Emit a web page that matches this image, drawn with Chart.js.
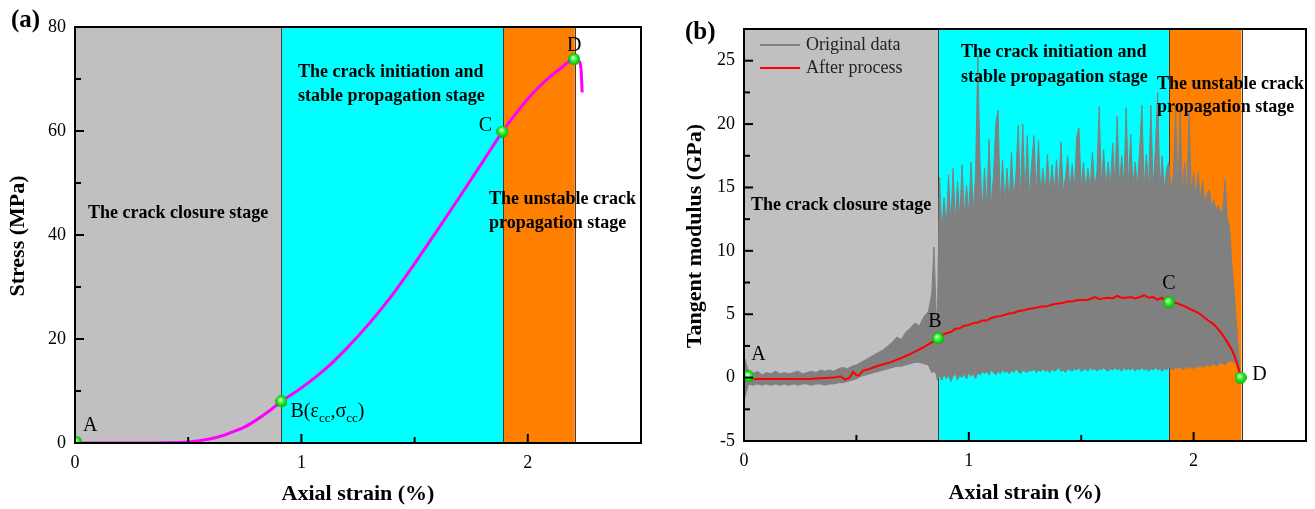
<!DOCTYPE html>
<html><head><meta charset="utf-8">
<script src="https://cdn.jsdelivr.net/npm/chart.js@4.4.1/dist/chart.umd.min.js"></script>
<style>
html,body{margin:0;padding:0;background:#fff;width:1315px;height:509px;overflow:hidden}
canvas{position:absolute;top:0}
#c1{left:0}
#c2{left:657px}
</style></head><body>
<canvas id="c1" width="657" height="509"></canvas>
<canvas id="c2" width="658" height="509"></canvas>
<script>
// ---------- Panel (a): stress-strain ----------
const strainA = [0,0.1,0.2,0.3,0.4,0.5,0.55,0.6,0.65,0.7,0.75,0.8,0.85,0.912,1.0,1.1,1.2,1.3,1.4,1.5,1.6,1.7,1.8,1.888,1.95,2.0,2.05,2.1,2.15,2.205,2.225,2.235,2.24];
const stressA = [0,0,0,0,0.05,0.2,0.45,0.8,1.4,2.2,3.1,4.4,5.9,8.0,10.6,14.0,18.2,23.0,28.4,34.5,40.9,47.4,54.0,59.9,63.5,66.2,68.5,70.5,72.2,73.8,73.5,72.0,67.4];
const markAx = [0.005,0.912,1.888,2.205];
const markAy = [0.2,8.0,59.9,73.8];
const markNames = ['A','B','C','D'];
const stageEdgesA = [0,0.912,1.892,2.208,2.5];
const xTicks = [0,1,2];
const xMinor = [0.5,1.5];
const yTicksA = [0,20,40,60,80];
const yMinorA = [10,30,50,70];

// ---------- Panel (b): tangent modulus ----------
const origX1 = [0,0.02,0.04,0.06,0.08,0.1,0.12,0.14,0.16,0.18,0.2,0.22,0.24,0.26,0.28,0.3,0.32,0.34,0.36,0.38,0.4,0.42,0.44,0.46,0.48,0.5,0.52,0.54,0.56,0.58,0.6,0.62,0.64,0.66,0.68,0.7,0.72,0.74,0.76,0.78,0.8,0.82,0.835,0.845,0.855,0.86];
const origUp1 = [1.7,0.5,0.3,0.5,0.2,0.4,0.3,0.5,0.3,0.4,0.3,0.4,0.5,0.3,0.4,0.5,0.4,0.6,0.5,0.6,0.5,0.7,0.8,0.7,0.9,1.0,1.2,1.4,1.6,1.8,2.0,2.2,2.5,2.8,3.2,3.0,3.6,3.9,4.3,4.1,4.8,5.2,6.6,10.3,5.0,4.5];
const origLo1 = [-1.8,-0.5,-0.6,-0.5,-0.6,-0.5,-0.6,-0.5,-0.6,-0.5,-0.6,-0.5,-0.6,-0.5,-0.5,-0.6,-0.5,-0.5,-0.6,-0.5,-0.5,-0.4,-0.4,-0.3,-0.2,-0.1,0.1,0.2,0.3,0.4,0.5,0.6,0.7,0.8,0.9,0.9,1.0,1.1,1.2,1.2,1.1,1.0,0.4,0.5,0.3,-0.2];
const origX2 = [0.87,0.88,0.89,0.9,0.91,0.92,0.93,0.94,0.95,0.96,
0.97,0.98,0.99,1,1.01,1.02,1.03,1.04,1.05,1.06,
1.07,1.08,1.09,1.1,1.11,1.12,1.13,1.14,1.15,1.16,
1.17,1.18,1.19,1.2,1.21,1.22,1.23,1.24,1.25,1.26,
1.27,1.28,1.29,1.3,1.31,1.32,1.33,1.34,1.35,1.36,
1.37,1.38,1.39,1.4,1.41,1.42,1.43,1.44,1.45,1.46,
1.47,1.48,1.49,1.5,1.51,1.52,1.53,1.54,1.55,1.56,
1.57,1.58,1.59,1.6,1.61,1.62,1.63,1.64,1.65,1.66,
1.67,1.68,1.69,1.7,1.71,1.72,1.73,1.74,1.75,1.76,
1.77,1.78,1.79,1.8,1.81,1.82,1.83,1.84,1.85,1.86,
1.87,1.88,1.89,1.9,1.91,1.92,1.93,1.94,1.95,1.96,
1.97,1.98,1.99,2,2.01,2.02,2.03,2.04,2.05,2.06,
2.07,2.08,2.09,2.1,2.11,2.12,2.13,2.14,2.15,2.16,
2.17,2.18,2.19,2.2,2.21];
const origUp2 = [15.8,11.5,14.2,11.8,16.0,12.0,16.5,12.3,15.5,12.5,
16.8,12.8,15.2,12.9,17.0,13.0,16.0,25.3,17.0,13.2,
16.5,13.4,18.8,13.5,16.0,20.0,21.1,13.6,17.2,13.8,
16.5,13.8,17.8,14.0,16.2,19.9,14.0,20.0,14.2,19.1,
14.2,17.0,19.1,14.3,18.7,14.4,16.5,14.5,17.6,14.5,
16.8,14.6,17.2,14.6,18.6,14.7,15.8,17.5,14.8,16.8,
14.8,19.0,19.7,14.9,17.0,14.9,16.5,15.0,17.8,15.0,
16.2,21.4,15.0,18.0,15.0,17.0,15.1,18.5,15.1,20.6,
15.1,17.5,15.1,21.3,15.0,19.2,15.0,17.0,15.0,18.0,
21.5,15.0,17.6,14.9,21.5,14.9,18.0,22.5,14.8,17.5,
14.8,16.5,17.0,14.7,16.0,21.1,14.6,21.3,14.5,17.0,
14.4,21.1,14.3,16.2,14.2,16.2,14.0,15.5,13.8,14.5,
14.8,13.5,14.0,13.2,13.6,13.0,13.3,15.6,12.5,12.0,
9.0,7.0,4.5,2.0,0.0];
const origLo2 = [0.2,-0.2,0.3,-0.1,0.2,-0.3,0.1,0.3,-0.2,0.2,
0.0,0.3,-0.1,0.4,0.1,0.3,-0.1,0.4,0.2,0.5,
0.3,0.5,0.2,0.6,0.4,0.2,0.5,0.3,0.6,0.4,
0.5,0.3,0.6,0.4,0.7,0.5,0.3,0.6,0.5,0.4,
0.6,0.5,0.7,0.4,0.6,0.5,0.7,0.5,0.6,0.4,
0.7,0.5,0.6,0.8,0.5,0.6,0.4,0.7,0.6,0.5,
0.7,0.6,0.8,0.5,0.6,0.7,0.5,0.8,0.6,0.7,
0.5,0.7,0.6,0.8,0.6,0.5,0.7,0.6,0.8,0.6,
0.7,0.5,0.8,0.6,0.7,0.6,0.8,0.5,0.7,0.6,
0.8,0.6,0.7,0.5,0.7,0.6,0.8,0.6,0.7,0.5,
0.7,0.6,0.8,0.7,0.6,0.8,0.7,0.9,0.6,0.8,
0.7,0.9,0.8,0.7,0.9,0.8,1.0,0.8,0.9,1.0,
0.9,1.0,1.1,0.9,1.0,1.2,1.1,1.0,1.2,1.3,
1.3,1.2,1.1,0.6,0.0];
const procX = [0.02,0.03,0.1,0.2,0.3,0.4,0.43,0.45,0.47,0.485,0.5,0.51,0.53,0.56,0.6,0.65,0.7,0.75,0.8,0.863,0.88,0.9,0.92,0.94,0.96,0.98,1.0,1.02,1.04,1.06,1.08,1.1,1.12,1.14,1.16,1.18,1.2,1.22,1.24,1.26,1.28,1.3,1.32,1.34,1.36,1.38,1.4,1.42,1.44,1.46,1.48,1.5,1.52,1.54,1.56,1.58,1.6,1.62,1.64,1.66,1.68,1.7,1.72,1.74,1.76,1.78,1.8,1.82,1.84,1.86,1.87,1.89,1.91,1.93,1.95,1.97,1.99,2.01,2.03,2.05,2.07,2.09,2.11,2.13,2.15,2.17,2.18,2.19,2.2,2.209];
const procY = [0.1,-0.1,-0.1,-0.1,-0.08,0.0,0.1,-0.15,0.0,0.45,0.2,0.15,0.55,0.7,0.95,1.2,1.55,1.95,2.4,3.1,3.35,3.5,3.6,3.85,3.9,4.1,4.15,4.3,4.35,4.5,4.5,4.7,4.8,4.85,4.95,5.05,5.1,5.25,5.3,5.4,5.45,5.5,5.6,5.6,5.7,5.8,5.85,5.9,6.0,6.0,6.1,6.15,6.1,6.2,6.35,6.2,6.25,6.3,6.25,6.45,6.3,6.3,6.35,6.25,6.35,6.5,6.3,6.35,6.15,6.3,6.05,5.95,5.95,5.85,5.7,5.55,5.35,5.2,5.0,4.7,4.45,4.2,3.8,3.35,2.8,2.2,1.8,1.3,0.7,0.0];
const markBx = [0.02,0.863,1.89,2.209];
const markBy = [0.1,3.1,5.95,0.0];
const stageEdgesB = [0,0.863,1.89,2.214,2.5];
const yTicksB = [-5,0,5,10,15,20,25];
const yMinorB = [-2.5,2.5,7.5,12.5,17.5,22.5];
const legendNames = ['Original data','After process'];

// ---------- styling ----------
const FONT = '"Liberation Serif", "Times New Roman", serif';
const stageColors = ['#c0c0c0','#00ffff','#ff8000','#ffffff'];

function ballImage(r){
  const c=document.createElement('canvas'); c.width=c.height=2*r;
  const g=c.getContext('2d');
  const gr=g.createRadialGradient(r*0.8,r*0.7,r*0.1,r,r,r);
  gr.addColorStop(0,'#eaffea'); gr.addColorStop(0.35,'#3cff3c'); gr.addColorStop(1,'#00b000');
  g.fillStyle=gr; g.beginPath(); g.arc(r,r,r,0,Math.PI*2); g.fill();
  return c;
}
const BALL = ballImage(6);

function pts(xs,ys){ return xs.map((v,i)=>({x:v,y:ys[i]})); }

function drawRich(ctx, parts, x, y){
  let cx=x;
  parts.forEach(p=>{
    ctx.font = p.sub ? '13px '+FONT : '20px '+FONT;
    ctx.fillText(p.t, cx, p.sub ? y+7 : y);
    cx += ctx.measureText(p.t).width;
  });
}

function decor(o){
  return {
    id:'decor',
    beforeDatasetsDraw(chart){
      const {ctx, chartArea:a, scales:{x}} = chart;
      ctx.save();
      for(let i=0;i<o.edges.length-1;i++){
        const x0=x.getPixelForValue(o.edges[i]), x1=x.getPixelForValue(o.edges[i+1]);
        ctx.fillStyle=stageColors[i]; ctx.fillRect(x0,a.top,x1-x0,a.bottom-a.top);
      }
      ctx.strokeStyle='#3c3c3c'; ctx.lineWidth=1;
      for(let i=1;i<o.edges.length-1;i++){
        const px=Math.round(x.getPixelForValue(o.edges[i]))+0.5;
        ctx.beginPath(); ctx.moveTo(px,a.top); ctx.lineTo(px,a.bottom); ctx.stroke();
      }
      ctx.restore();
    },
    afterDraw(chart){
      const {ctx, chartArea:a, scales:{x,y}} = chart;
      const off=o.offset;
      ctx.save();
      ctx.strokeStyle='#000'; ctx.lineWidth=2;
      ctx.strokeRect(a.left,a.top,a.right-a.left,a.bottom-a.top);
      const tk=(px,py,dx,dy)=>{ctx.beginPath();ctx.moveTo(px,py);ctx.lineTo(px+dx,py+dy);ctx.stroke();};
      o.xMajor.forEach(v=>tk(x.getPixelForValue(v),a.bottom,0,-9));
      o.xMinor.forEach(v=>tk(x.getPixelForValue(v),a.bottom,0,-6));
      o.yMajor.forEach(v=>tk(a.left,y.getPixelForValue(v),9,0));
      o.yMinor.forEach(v=>tk(a.left,y.getPixelForValue(v),6,0));
      ctx.fillStyle='#000'; ctx.textBaseline='middle';
      // stage texts
      ctx.font='bold 18px '+FONT; ctx.textAlign='left';
      o.texts.forEach(t=>ctx.fillText(t[0],t[1]-off,t[2]));
      // panel label
      ctx.font='bold 25px '+FONT;
      ctx.fillText(o.panel[0],o.panel[1]-off,o.panel[2]);
      // axis titles
      ctx.font='bold 22px '+FONT; ctx.textAlign='center';
      ctx.fillText('Axial strain (%)',(a.left+a.right)/2,o.xTitleY);
      ctx.save(); ctx.translate(o.yTitleX-off,(a.top+a.bottom)/2+1); ctx.rotate(-Math.PI/2);
      ctx.fillText(o.yTitle,0,0); ctx.restore();
      // marker labels
      ctx.font='20px '+FONT; ctx.textAlign='center';
      o.mx.forEach((v,i)=>{
        const px=x.getPixelForValue(v), py=y.getPixelForValue(o.my[i]);
        const d=o.labOff[i];
        if(o.rich && i===1){ ctx.textAlign='left'; drawRich(ctx,o.rich,px+d[0],py+d[1]); ctx.textAlign='center'; }
        else ctx.fillText(markNames[i],px+d[0],py+d[1]);
      });
      // legend
      if(o.legend){
        ctx.font='18px '+FONT; ctx.textAlign='left';
        o.legend.forEach((l,i)=>{
          ctx.strokeStyle=l.c; ctx.lineWidth=2;
          ctx.beginPath(); ctx.moveTo(760-off,l.y); ctx.lineTo(800-off,l.y); ctx.stroke();
          ctx.fillStyle='#222'; ctx.fillText(legendNames[i],806-off,l.y);
        });
      }
      ctx.restore();
    }
  };
}

function scalesCfg(o){
  const tickFont={family:FONT,size:18};
  return {
    x:{type:'linear',min:0,max:2.5,
       afterBuildTicks:s=>{s.ticks=xTicks.map(v=>({value:v}));},
       afterFit:s=>{s.height=o.xH;},
       grid:{display:false,drawTicks:false},border:{display:false},
       ticks:{padding:9,color:'#000',font:tickFont,maxRotation:0,autoSkip:false}},
    y:{type:'linear',min:o.yMin,max:o.yMax,
       afterBuildTicks:s=>{s.ticks=o.yTicks.map(v=>({value:v}));},
       afterFit:s=>{s.width=o.yW;},
       grid:{display:false,drawTicks:false},border:{display:false},
       ticks:{padding:9,color:'#000',font:tickFont,autoSkip:false}}
  };
}

const common = {responsive:false,animation:false,devicePixelRatio:1,
  plugins:{legend:{display:false},tooltip:{enabled:false}}};

// Chart (a)
new Chart(document.getElementById('c1'),{
  type:'line',
  data:{datasets:[
    {data:pts(markAx,markAy),showLine:false,pointStyle:BALL,pointRadius:6},
    {data:pts(strainA,stressA),borderColor:'#ff00ff',borderWidth:3,pointRadius:0,cubicInterpolationMode:'monotone',fill:false}
  ]},
  options:Object.assign({},common,{
    layout:{padding:{left:0,top:27,right:16,bottom:0}},
    scales:scalesCfg({xH:66,yW:75,yMin:0,yMax:80,yTicks:yTicksA})
  }),
  plugins:[decor({offset:0,edges:stageEdgesA,xMajor:xTicks,xMinor:xMinor,yMajor:yTicksA,yMinor:yMinorA,
    texts:[['The crack closure stage',88,213],['The crack initiation and',298,72],['stable propagation stage',298,96],
           ['The unstable crack',489,199],['propagation stage',489,223]],
    panel:['(a)',11,21],xTitleY:494,yTitleX:18,yTitle:'Stress (MPa)',
    mx:markAx,my:markAy,labOff:[[14,-16],[9,10],[-17,-6],[0,-13]],
    rich:[{t:'B(ε'},{t:'cc',sub:true},{t:',σ'},{t:'cc',sub:true},{t:')'}]})]
});

// Chart (b)
new Chart(document.getElementById('c2'),{
  type:'line',
  data:{datasets:[
    {data:pts(markBx,markBy),showLine:false,pointStyle:BALL,pointRadius:6},
    {data:pts(procX,procY),borderColor:'#ff0000',borderWidth:2,pointRadius:0,tension:0,fill:false},
    {data:pts(origX1.concat(origX2),origUp1.concat(origUp2)),borderColor:'#808080',backgroundColor:'#808080',borderWidth:1,pointRadius:0,tension:0,fill:'+1'},
    {data:pts(origX1.concat(origX2),origLo1.concat(origLo2)),borderColor:'#808080',borderWidth:1,pointRadius:0,tension:0,fill:false}
  ]},
  options:Object.assign({},common,{
    layout:{padding:{left:0,top:29,right:9,bottom:0}},
    scales:scalesCfg({xH:68,yW:87,yMin:-5,yMax:27.5,yTicks:yTicksB})
  }),
  plugins:[decor({offset:657,edges:stageEdgesB,xMajor:xTicks,xMinor:xMinor,yMajor:yTicksB,yMinor:yMinorB,
    texts:[['The crack closure stage',751,205],['The crack initiation and',961,52],['stable propagation stage',961,77],
           ['The unstable crack',1157,84],['propagation stage',1157,107]],
    panel:['(b)',685,33],xTitleY:493,yTitleX:695,yTitle:'Tangent modulus (GPa)',
    mx:markBx,my:markBy,labOff:[[10,-22],[-3,-17],[0,-18],[19,-3]],
    legend:[{c:'#808080',y:45},{c:'#ff0000',y:68}]})]
});
</script>
</body></html>
